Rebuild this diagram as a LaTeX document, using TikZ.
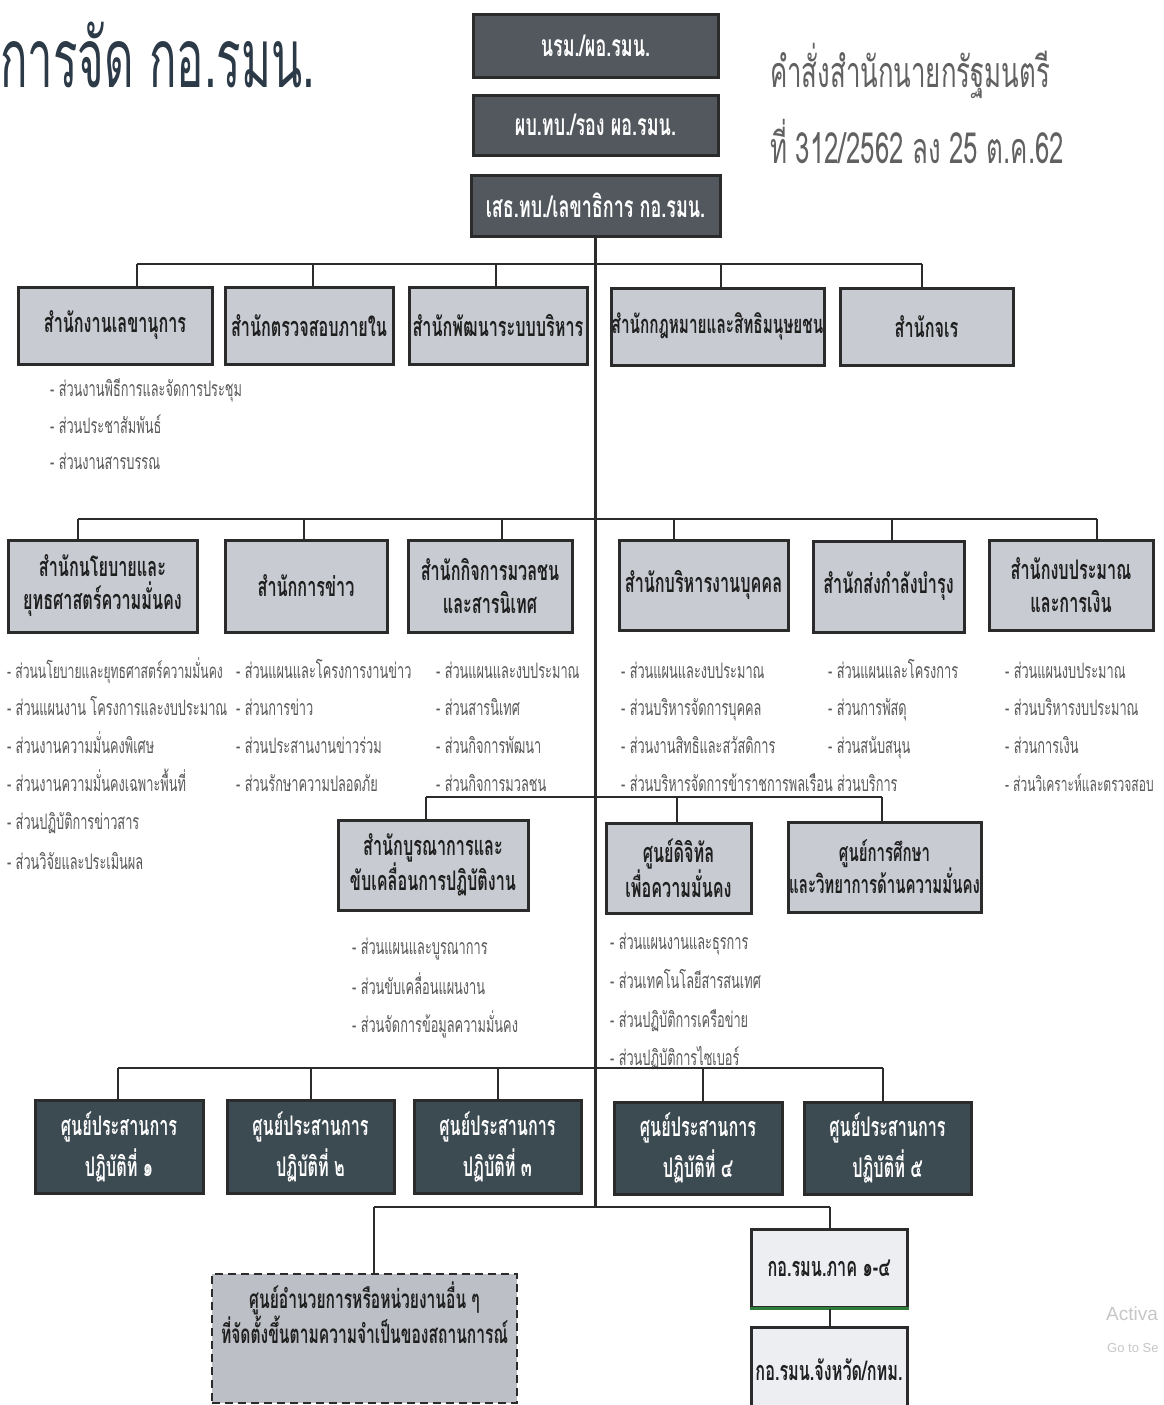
\documentclass[tikz,border=0pt]{standalone}
\usepackage{fontspec}
\newfontfamily\thc[Script=Thai,FakeStretch=0.6]{Loma}
\newfontfamily\tht[Script=Thai,FakeStretch=0.555]{Loma}
\newfontfamily\thn[Script=Thai,FakeStretch=0.6]{Loma}
\newfontfamily\wmfont{Liberation Sans}
\definecolor{topfill}{HTML}{52585E}
\definecolor{lightfill}{HTML}{C8CBD2}
\definecolor{darkfill}{HTML}{3C4A51}
\definecolor{palefill}{HTML}{ECEEF2}
\definecolor{edge}{HTML}{2B2B2B}
\definecolor{subtext}{HTML}{5A5A5A}
\definecolor{titlecol}{HTML}{2C3A47}
\definecolor{greenedge}{HTML}{2E7D3A}
\tikzset{
  box/.style={rectangle, draw=edge, line width=3pt, inner sep=0pt, align=center},
  topbox/.style={box, fill=topfill, text=white, font=\thc\bfseries\fontsize{30}{33}\selectfont},
  graybox/.style={box, fill=lightfill, text=black!88, font=\thc\bfseries\fontsize{27}{33}\selectfont},
  darkbox/.style={box, fill=darkfill, text=white, font=\thc\bfseries\fontsize{27}{41}\selectfont},
  dashbox/.style={box, fill=lightfill!94!black, dash pattern=on 8pt off 5pt, line width=2.5pt, text=black!88, font=\thc\bfseries\fontsize{26}{30}\selectfont},
  palebox/.style={box, fill=palefill, text=black!88, font=\thc\bfseries\fontsize{27}{30}\selectfont},
  subitem/.style={anchor=base west, inner sep=0pt, text=subtext, font=\thc\fontsize{21.3}{23}\selectfont},
  link/.style={draw=edge, line width=2.5pt},
}
\begin{document}
\begin{tikzpicture}[x=1pt,y=-1pt]
\useasboundingbox (0,0) rectangle (1164,1405);
\fill[white] (0,0) rectangle (1164,1405);

% titles
\node[anchor=base west, inner sep=0pt, text=titlecol, font=\tht\fontsize{82}{88}\selectfont] (title) at (0,88) {การจัด กอ.รมน.};
\node[anchor=base west, inner sep=0pt, text=black!62, font=\thn\fontsize{43}{48}\selectfont] (order1) at (770,88) {คำสั่งสำนักนายกรัฐมนตรี};
\node[anchor=base west, inner sep=0pt, text=black!62, font=\thn\fontsize{43}{48}\selectfont] (order2) at (770,163) {ที่ 312/2562 ลง 25 ต.ค.62};

% top boxes
\node[topbox, minimum width=245pt, minimum height=62pt] (B1) at (595.5,46) {นรม./ผอ.รมน.};
\node[topbox, minimum width=245pt, minimum height=60pt] (B2) at (595.5,125) {ผบ.ทบ./รอง ผอ.รมน.};
\node[topbox, minimum width=249pt, minimum height=61pt] (B3) at (595.5,205.5) {เสธ.ทบ./เลขาธิการ กอ.รมน.};

% row 1
\node[graybox, minimum width=194pt, minimum height=77pt] (A1) at (115,325.5) {สำนักงานเลขานุการ};
\node[graybox, minimum width=168pt, minimum height=77pt] (A2) at (309,325.5) {สำนักตรวจสอบภายใน};
\node[graybox, minimum width=178pt, minimum height=77pt] (A3) at (498,325.5) {สำนักพัฒนาระบบบริหาร};
\node[graybox, minimum width=213pt, minimum height=77pt, font=\thc\bfseries\fontsize{25.5}{30}\selectfont] (A4) at (717.5,326.5) {สำนักกฎหมายและสิทธิมนุษยชน};
\node[graybox, minimum width=173pt, minimum height=77pt] (A5) at (926.5,326.5) {สำนักจเร};

% row 2
\node[graybox, minimum width=189pt, minimum height=92pt] (C1) at (102.5,586) {สำนักนโยบายและ\\ยุทธศาสตร์ความมั่นคง};
\node[graybox, minimum width=162pt, minimum height=92pt] (C2) at (306,586) {สำนักการข่าว};
\node[graybox, minimum width=164pt, minimum height=92pt] (C3) at (490,586) {สำนักกิจการมวลชน\\และสารนิเทศ};
\node[graybox, minimum width=169pt, minimum height=90pt] (C4) at (703.5,585) {สำนักบริหารงานบุคคล};
\node[graybox, minimum width=151pt, minimum height=91pt] (C5) at (888.5,586.5) {สำนักส่งกำลังบำรุง};
\node[graybox, minimum width=164pt, minimum height=90pt] (C6) at (1071,585) {สำนักงบประมาณ\\และการเงิน};

% row 3
\node[graybox, minimum width=190pt, minimum height=90pt] (D1) at (433,865) {สำนักบูรณาการและ\\ขับเคลื่อนการปฏิบัติงาน};
\node[graybox, minimum width=145pt, minimum height=90pt] (D2) at (678.5,868) {ศูนย์ดิจิทัล\\เพื่อความมั่นคง};
\node[graybox, minimum width=193pt, minimum height=90pt, font=\thc\bfseries\fontsize{25}{32}\selectfont] (D3) at (884.5,867) {ศูนย์การศึกษา\\และวิทยาการด้านความมั่นคง};

% row 4
\node[darkbox, minimum width=168pt, minimum height=93pt] (E1) at (119,1146.5) {ศูนย์ประสานการ\\ปฏิบัติที่ ๑};
\node[darkbox, minimum width=167pt, minimum height=93pt] (E2) at (310.5,1146.5) {ศูนย์ประสานการ\\ปฏิบัติที่ ๒};
\node[darkbox, minimum width=167pt, minimum height=93pt] (E3) at (497.5,1146.5) {ศูนย์ประสานการ\\ปฏิบัติที่ ๓};
\node[darkbox, minimum width=168pt, minimum height=92pt] (E4) at (698,1148) {ศูนย์ประสานการ\\ปฏิบัติที่ ๔};
\node[darkbox, minimum width=167pt, minimum height=92pt] (E5) at (887.5,1148) {ศูนย์ประสานการ\\ปฏิบัติที่ ๕};

% row 5
\node[dashbox, minimum width=305pt, minimum height=129pt, text depth=52pt] (F1) at (364.5,1338.5) {ศูนย์อำนวยการหรือหน่วยงานอื่น ๆ\\ที่จัดตั้งขึ้นตามความจำเป็นของสถานการณ์};
\node[palebox, minimum width=156pt, minimum height=78pt] (G1) at (829,1268) {กอ.รมน.ภาค ๑-๔};
\draw[draw=greenedge, line width=3pt] (G1.south west) -- (G1.south east);
\node[palebox, minimum width=156pt, minimum height=86pt] (G2) at (829,1370) {กอ.รมน.จังหวัด/กทม.};

% sub-items
\node[subitem] (a1s1) at (50,396) {- ส่วนงานพิธีการและจัดการประชุม};
\node[subitem] (a1s2) at (50,433) {- ส่วนประชาสัมพันธ์};
\node[subitem] (a1s3) at (50,469) {- ส่วนงานสารบรรณ};

\node[subitem, font=\thc\fontsize{20.3}{22}\selectfont] (c1s1) at (7,678) {- ส่วนนโยบายและยุทธศาสตร์ความมั่นคง};
\node[subitem] (c1s2) at (7,715) {- ส่วนแผนงาน โครงการและงบประมาณ};
\node[subitem] (c1s3) at (7,753) {- ส่วนงานความมั่นคงพิเศษ};
\node[subitem] (c1s4) at (7,791) {- ส่วนงานความมั่นคงเฉพาะพื้นที่};
\node[subitem] (c1s5) at (7,829) {- ส่วนปฏิบัติการข่าวสาร};
\node[subitem] (c1s6) at (7,869) {- ส่วนวิจัยและประเมินผล};

\node[subitem] (c2s1) at (236,678) {- ส่วนแผนและโครงการงานข่าว};
\node[subitem] (c2s2) at (236,715) {- ส่วนการข่าว};
\node[subitem] (c2s3) at (236,753) {- ส่วนประสานงานข่าวร่วม};
\node[subitem] (c2s4) at (236,791) {- ส่วนรักษาความปลอดภัย};

\node[subitem] (c3s1) at (436,678) {- ส่วนแผนและงบประมาณ};
\node[subitem] (c3s2) at (436,715) {- ส่วนสารนิเทศ};
\node[subitem] (c3s3) at (436,753) {- ส่วนกิจการพัฒนา};
\node[subitem] (c3s4) at (436,791) {- ส่วนกิจการมวลชน};

\node[subitem] (c4s1) at (621,678) {- ส่วนแผนและงบประมาณ};
\node[subitem] (c4s2) at (621,715) {- ส่วนบริหารจัดการบุคคล};
\node[subitem] (c4s3) at (621,753) {- ส่วนงานสิทธิและสวัสดิการ};
\node[subitem] (c4s4) at (621,791) {- ส่วนบริหารจัดการข้าราชการพลเรือน ส่วนบริการ};

\node[subitem] (c5s1) at (828,678) {- ส่วนแผนและโครงการ};
\node[subitem] (c5s2) at (828,715) {- ส่วนการพัสดุ};
\node[subitem] (c5s3) at (828,753) {- ส่วนสนับสนุน};

\node[subitem] (c6s1) at (1005,678) {- ส่วนแผนงบประมาณ};
\node[subitem] (c6s2) at (1005,715) {- ส่วนบริหารงบประมาณ};
\node[subitem] (c6s3) at (1005,753) {- ส่วนการเงิน};
\node[subitem, font=\thc\fontsize{20}{22}\selectfont] (c6s4) at (1005,791) {- ส่วนวิเคราะห์และตรวจสอบ};

\node[subitem] (d1s1) at (352,954) {- ส่วนแผนและบูรณาการ};
\node[subitem] (d1s2) at (352,994) {- ส่วนขับเคลื่อนแผนงาน};
\node[subitem] (d1s3) at (352,1032) {- ส่วนจัดการข้อมูลความมั่นคง};

\node[subitem] (d2s1) at (610,949) {- ส่วนแผนงานและธุรการ};
\node[subitem] (d2s2) at (610,988) {- ส่วนเทคโนโลยีสารสนเทศ};
\node[subitem] (d2s3) at (610,1027) {- ส่วนปฏิบัติการเครือข่าย};
\node[subitem] (d2s4) at (610,1065) {- ส่วนปฏิบัติการไซเบอร์};

% watermark (visible part)
\node[anchor=base west, inner sep=0pt, text=black!22, font=\wmfont\fontsize{19}{22}\selectfont] (wm1) at (1106,1320) {Activa};
\node[anchor=base west, inner sep=0pt, text=black!22, font=\wmfont\fontsize{13}{15}\selectfont] (wm2) at (1107,1352) {Go to Se};

% bus coordinates
\coordinate (trunkEnd) at (595.5,1207);
\coordinate (r1a) at (137,264);  \coordinate (r1b) at (313,264); \coordinate (r1c) at (496,264);
\coordinate (r1d) at (721,264);  \coordinate (r1e) at (922,264);
\coordinate (r2a) at (78,519);   \coordinate (r2b) at (304,519); \coordinate (r2c) at (502,519);
\coordinate (r2d) at (674,519);  \coordinate (r2e) at (892,519); \coordinate (r2f) at (1097,519);
\coordinate (r3a) at (426,797);  \coordinate (r3b) at (677,797); \coordinate (r3c) at (882,797);
\coordinate (r4a) at (118,1068); \coordinate (r4b) at (311,1068); \coordinate (r4c) at (498,1068);
\coordinate (r4d) at (703,1068); \coordinate (r4e) at (883,1068);
\coordinate (r5a) at (374,1207); \coordinate (r5b) at (830,1207);

% connectors
\draw[link] (B3.south) -- (trunkEnd);
\draw[link] (r1a) -- (r1e);
\draw[link] (r1a) -- (r1a |- A1.north);
\draw[link] (r1b) -- (r1b |- A2.north);
\draw[link] (r1c) -- (r1c |- A3.north);
\draw[link] (r1d) -- (r1d |- A4.north);
\draw[link] (r1e) -- (r1e |- A5.north);
\draw[link] (r2a) -- (r2f);
\draw[link] (r2a) -- (r2a |- C1.north);
\draw[link] (r2b) -- (r2b |- C2.north);
\draw[link] (r2c) -- (r2c |- C3.north);
\draw[link] (r2d) -- (r2d |- C4.north);
\draw[link] (r2e) -- (r2e |- C5.north);
\draw[link] (r2f) -- (r2f |- C6.north);
\draw[link] (r3a) -- (r3c);
\draw[link] (r3a) -- (r3a |- D1.north);
\draw[link] (r3b) -- (r3b |- D2.north);
\draw[link] (r3c) -- (r3c |- D3.north);
\draw[link] (r4a) -- (r4e);
\draw[link] (r4a) -- (r4a |- E1.north);
\draw[link] (r4b) -- (r4b |- E2.north);
\draw[link] (r4c) -- (r4c |- E3.north);
\draw[link] (r4d) -- (r4d |- E4.north);
\draw[link] (r4e) -- (r4e |- E5.north);
\draw[link] (r5a) -- (r5b);
\draw[link] (r5a) -- (r5a |- F1.north);
\draw[link] (r5b) -- (r5b |- G1.north);
\draw[link] (G1.south -| r5b) -- (G2.north -| r5b);
\end{tikzpicture}
\end{document}
